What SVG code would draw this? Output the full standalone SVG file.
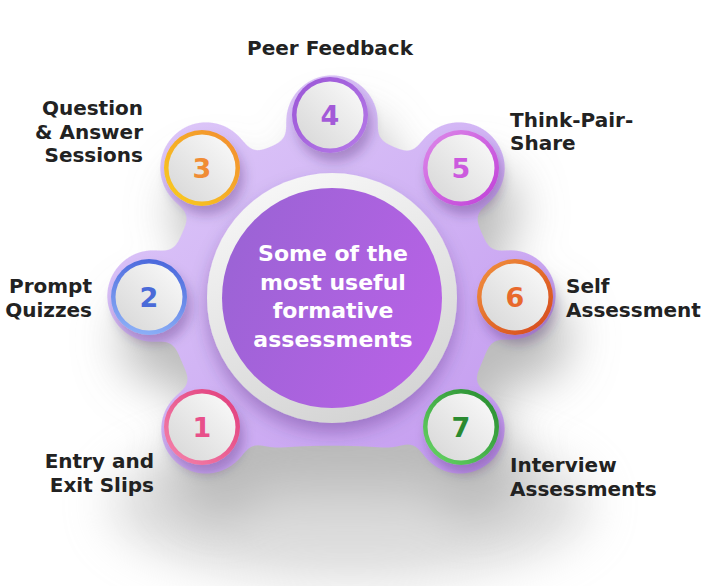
<svg xmlns="http://www.w3.org/2000/svg" width="711" height="586" viewBox="0 0 711 586">
<style>
.lbl{font-family:"DejaVu Sans","Liberation Sans",sans-serif;font-weight:bold;font-size:20px;fill:#222222}
.num{font-family:"DejaVu Sans","Liberation Sans",sans-serif;font-weight:600;font-size:27px;text-anchor:middle}
.ctr{font-family:"DejaVu Sans","Liberation Sans",sans-serif;font-weight:bold;font-size:22px;fill:#ffffff;text-anchor:middle}
.end{text-anchor:end}
.mid{text-anchor:middle}
</style>
<defs>
<filter id="goo" filterUnits="userSpaceOnUse" x="0" y="0" width="711" height="586">
<feGaussianBlur in="SourceGraphic" stdDeviation="9" result="b"/>
<feColorMatrix in="b" type="matrix" values="1 0 0 0 0 0 1 0 0 0 0 0 1 0 0 0 0 0 22 -10"/>
</filter>
<filter id="bigShadow" filterUnits="userSpaceOnUse" x="-100" y="-100" width="911" height="786">
<feGaussianBlur stdDeviation="24"/>
</filter>
<filter id="ds" x="-40%" y="-40%" width="190%" height="190%">
<feDropShadow dx="4" dy="9" stdDeviation="6" flood-color="#2a0a50" flood-opacity="0.28"/>
</filter>
<filter id="dsc" x="-20%" y="-20%" width="140%" height="145%">
<feDropShadow dx="0" dy="10" stdDeviation="9" flood-color="#3a1060" flood-opacity="0.3"/>
</filter>
<mask id="blobMask" maskUnits="userSpaceOnUse" x="0" y="0" width="711" height="586">
<g filter="url(#goo)" fill="#fff">
<path d="M268.4 448 A163 163 0 1 1 395.6 448 Q332 442 268.4 448 Z"/>
<circle cx="332" cy="121" r="46"/>
<circle cx="206" cy="168" r="46"/>
<circle cx="459" cy="168" r="46"/>
<circle cx="153" cy="296" r="46"/>
<circle cx="511" cy="295" r="45"/>
<circle cx="206" cy="429" r="45"/>
<circle cx="460" cy="429" r="45"/>
</g>
</mask>
<linearGradient id="blobGrad" x1="0" y1="0" x2="1" y2="1">
<stop offset="0" stop-color="#e6d6fb"/>
<stop offset="0.45" stop-color="#d2b5f5"/>
<stop offset="1" stop-color="#b783ea"/>
</linearGradient>
<linearGradient id="ringGrad" x1="0.3" y1="0" x2="0.7" y2="1">
<stop offset="0" stop-color="#f7f7f7"/>
<stop offset="1" stop-color="#d3d3d3"/>
</linearGradient>
<linearGradient id="purpleGrad" x1="0" y1="0.3" x2="1" y2="0.7">
<stop offset="0" stop-color="#9b63d5"/>
<stop offset="1" stop-color="#b862e6"/>
</linearGradient>
<linearGradient id="face" x1="1" y1="0" x2="0" y2="1">
<stop offset="0" stop-color="#fbfbfb"/>
<stop offset="1" stop-color="#d6d6d6"/>
</linearGradient>
<linearGradient id="r1" x1="1" y1="0" x2="0" y2="1"><stop offset="0" stop-color="#e03a7a"/><stop offset="1" stop-color="#f585ac"/></linearGradient>
<linearGradient id="r2" x1="0.6" y1="0" x2="0.4" y2="1"><stop offset="0" stop-color="#4b68dc"/><stop offset="1" stop-color="#8cb0f7"/></linearGradient>
<linearGradient id="r3" x1="1" y1="0" x2="0" y2="1"><stop offset="0" stop-color="#f28a32"/><stop offset="1" stop-color="#f9cf1c"/></linearGradient>
<linearGradient id="r4" x1="0" y1="0" x2="1" y2="1"><stop offset="0" stop-color="#9a55d6"/><stop offset="1" stop-color="#b67ae8"/></linearGradient>
<linearGradient id="r5" x1="0" y1="0" x2="1" y2="1"><stop offset="0" stop-color="#dd8ae9"/><stop offset="1" stop-color="#c03fd8"/></linearGradient>
<linearGradient id="r6" x1="0" y1="0" x2="1" y2="1"><stop offset="0" stop-color="#f2923e"/><stop offset="1" stop-color="#d4471a"/></linearGradient>
<linearGradient id="r7" x1="1" y1="0" x2="0" y2="1"><stop offset="0" stop-color="#23882c"/><stop offset="1" stop-color="#6ad868"/></linearGradient>
</defs>
<rect width="711" height="586" fill="#ffffff"/>
<g id="background">
<g filter="url(#bigShadow)" transform="translate(14,44)">
<rect width="711" height="586" fill="#8f8f8f" opacity="0.6" mask="url(#blobMask)"/>
</g>
<ellipse cx="350" cy="505" rx="240" ry="75" fill="#b8b8b8" opacity="0.5" filter="url(#bigShadow)"/>
<rect width="711" height="586" fill="url(#blobGrad)" mask="url(#blobMask)"/>
</g>
<g id="connectors"/>
<g id="node-center">
<circle cx="332" cy="298" r="125" fill="url(#ringGrad)" filter="url(#dsc)"/>
<circle cx="332" cy="298" r="110" fill="url(#purpleGrad)"/>
<text class="ctr" x="333" y="261">Some of the</text>
<text class="ctr" x="333" y="290">most useful</text>
<text class="ctr" x="333" y="318">formative</text>
<text class="ctr" x="333" y="347">assessments</text>
</g>
<g id="node-1">
<g filter="url(#ds)"><circle cx="202" cy="427" r="38" fill="url(#r1)"/></g>
<circle cx="202" cy="427" r="33.5" fill="url(#face)"/>
<text class="num" x="202" y="437" fill="#e8508a">1</text>
<text class="lbl end" x="154" y="468">Entry and</text>
<text class="lbl end" x="154" y="492">Exit Slips</text>
</g>
<g id="node-2">
<g filter="url(#ds)"><circle cx="149" cy="297" r="38" fill="url(#r2)"/></g>
<circle cx="149" cy="297" r="33.5" fill="url(#face)"/>
<text class="num" x="149" y="307" fill="#4a6ad8">2</text>
<text class="lbl end" x="92" y="293">Prompt</text>
<text class="lbl end" x="92" y="317">Quizzes</text>
</g>
<g id="node-3">
<g filter="url(#ds)"><circle cx="202" cy="168" r="38" fill="url(#r3)"/></g>
<circle cx="202" cy="168" r="33.5" fill="url(#face)"/>
<text class="num" x="202" y="178" fill="#f08c35">3</text>
<text class="lbl end" x="143" y="115">Question</text>
<text class="lbl end" x="143" y="139">&amp; Answer</text>
<text class="lbl end" x="143" y="162">Sessions</text>
</g>
<g id="node-4">
<g filter="url(#ds)"><circle cx="330" cy="115" r="38" fill="url(#r4)"/></g>
<circle cx="330" cy="115" r="33.5" fill="url(#face)"/>
<text class="num" x="330" y="125" fill="#a35ad8">4</text>
<text class="lbl mid" x="330" y="55">Peer Feedback</text>
</g>
<g id="node-5">
<g filter="url(#ds)"><circle cx="461" cy="168" r="38" fill="url(#r5)"/></g>
<circle cx="461" cy="168" r="33.5" fill="url(#face)"/>
<text class="num" x="461" y="178" fill="#cc5ade">5</text>
<text class="lbl" x="510" y="127">Think-Pair-</text>
<text class="lbl" x="510" y="150">Share</text>
</g>
<g id="node-6">
<g filter="url(#ds)"><circle cx="515" cy="297" r="38" fill="url(#r6)"/></g>
<circle cx="515" cy="297" r="33.5" fill="url(#face)"/>
<text class="num" x="515" y="307" fill="#e8692c">6</text>
<text class="lbl" x="566" y="293">Self</text>
<text class="lbl" x="566" y="317">Assessment</text>
</g>
<g id="node-7">
<g filter="url(#ds)"><circle cx="461" cy="427" r="38" fill="url(#r7)"/></g>
<circle cx="461" cy="427" r="33.5" fill="url(#face)"/>
<text class="num" x="461" y="437" fill="#2a8a30">7</text>
<text class="lbl" x="510" y="472">Interview</text>
<text class="lbl" x="510" y="496">Assessments</text>
</g>
</svg>
